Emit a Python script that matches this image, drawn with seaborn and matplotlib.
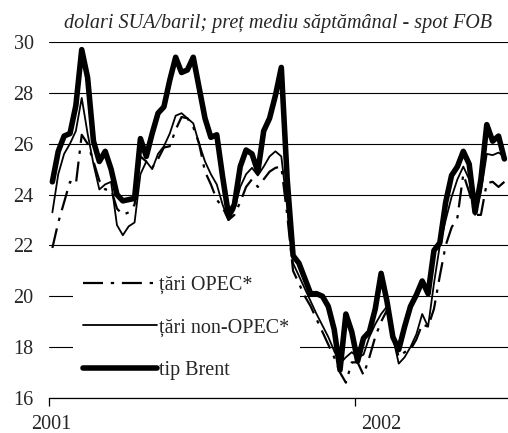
import pandas as pd
import numpy as np
import seaborn as sns
import matplotlib.pyplot as plt

# weekly average spot FOB prices, USD/barrel
weeks = pd.date_range('2001-01-05', periods=78, freq='7D')

opec = [21.9, 22.9, 23.7, 24.5, 24.4, 26.35, 26.0, 25.3, 24.55, 24.2,
        24.2, 23.45, 23.2, 23.3, 23.6, 25.5, 25.3, 25.05, 25.4, 25.85,
        25.9, 26.55, 27.05, 27.0, 26.65, 26.0, 24.9, 24.4, 23.8, 23.5,
        23.0, 23.2, 23.7, 24.3, 24.6, 24.3, 24.6, 24.9, 25.05, 25.1,
        23.2, 21.0, 20.5, 20.0, 19.6, 19.1, 18.6, 18.1, 17.6, 17.0,
        16.6, 17.4, 17.4, 16.9, 17.6, 18.4, 19.0, 19.45, 18.5, 17.6,
        17.8, 17.9, 18.3, 18.9, 18.8, 19.5, 20.8, 22.0, 22.7, 23.1,
        24.8, 24.1, 23.2, 23.2, 24.45, 24.5, 24.3, 24.5]

non_opec = [23.3, 24.8, 25.6, 26.0, 26.5, 27.8, 26.4, 25.2, 24.2, 24.4,
            24.5, 22.8, 22.4, 22.75, 22.9, 24.8, 25.3, 25.0, 25.6, 25.9,
            26.4, 27.1, 27.2, 27.0, 26.8, 26.0, 25.3, 24.8, 24.4, 23.6,
            23.0, 23.4, 24.3, 24.8, 25.05, 24.75, 25.1, 25.5, 25.7, 25.5,
            23.5, 21.3, 20.8, 20.3, 19.8, 19.3, 18.85, 18.4, 17.85, 17.35,
            17.6, 17.8, 17.6, 17.7, 18.4, 18.9, 19.3, 19.6, 18.4, 17.35,
            17.6, 18.0, 18.5, 19.3, 18.8, 20.5, 22.0, 23.0, 23.9, 24.6,
            25.1, 24.6, 23.2, 24.1, 25.6, 25.55, 25.65, 25.5]

brent = [24.5, 25.7, 26.3, 26.4, 27.5, 29.7, 28.6, 26.1, 25.3, 25.7,
         25.0, 24.0, 23.75, 23.8, 23.85, 26.2, 25.5, 26.4, 27.2, 27.45,
         28.5, 29.4, 28.8, 28.9, 29.4, 28.2, 27.0, 26.25, 26.35, 24.7,
         23.2, 23.6, 25.1, 25.75, 25.6, 24.9, 26.5, 27.0, 27.9, 29.0,
         24.6, 21.6, 21.3, 20.7, 20.1, 20.1, 20.0, 19.6, 18.7, 17.1,
         19.3, 18.6, 17.45, 18.35, 18.6, 19.5, 20.9, 19.8, 18.4, 17.9,
         18.8, 19.6, 20.05, 20.6, 20.1, 21.8, 22.1, 23.7, 24.75, 25.1,
         25.7, 25.2, 23.3, 24.6, 26.75, 26.1, 26.3, 25.4]

labels = ['țări OPEC*', 'țări non-OPEC*', 'tip Brent']
yticks = [16, 18, 20, 22, 24, 26, 28, 30]
year_labels = ['2001', '2002']

df = pd.DataFrame({'week': weeks, 'opec': opec, 'non_opec': non_opec, 'brent': brent})

sns.set_style('white')
plt.rcParams['font.family'] = ['Liberation Serif', 'DejaVu Serif']
FS = 14.5

fig = plt.figure(figsize=(5.08, 4.33), dpi=100)
ax = fig.add_axes([0.0965, 0.081, 0.903, 0.822])

sns.lineplot(data=df, x='week', y='opec', ax=ax, color='black', lw=1.6,
             label=labels[0])
ax.lines[-1].set_dashes([9, 3.5, 1.5, 3.5])
sns.lineplot(data=df, x='week', y='non_opec', ax=ax, color='black', lw=1.3,
             label=labels[1])
sns.lineplot(data=df, x='week', y='brent', ax=ax, color='black', lw=4.0,
             label=labels[2])
for ln in ax.lines:
    ln.set_solid_capstyle('round')
    ln.set_solid_joinstyle('round')
    ln.set_zorder(3)

ax.set_ylim(16, 30)
ax.set_yticks(yticks)
ax.set_xlim(pd.Timestamp('2001-01-01'), pd.Timestamp('2002-07-02'))
ax.grid(axis='y', color='black', lw=0.8)
ax.set_axisbelow(True)
for s in ['left', 'right', 'top']:
    ax.spines[s].set_visible(False)
ax.spines['bottom'].set_color('black')
ax.spines['bottom'].set_linewidth(0.9)

ax.tick_params(axis='y', length=0, pad=11, labelsize=FS)
major = [pd.Timestamp('2001-01-01'), pd.Timestamp('2002-01-01')]
ax.set_xticks(major)
ax.set_xticklabels(['', ''])
ax.tick_params(axis='x', which='major', direction='out', length=6, width=0.9,
               color='black', bottom=True)
minor = [pd.Timestamp('2001-01-04'), pd.Timestamp('2002-02-01')]
ax.set_xticks(minor, minor=True)
ax.set_xticklabels(year_labels, minor=True)
ax.tick_params(axis='x', which='minor', length=0, pad=12, labelsize=FS)
ax.set_xlabel('')
ax.set_ylabel('')

leg = ax.legend(loc='upper left', bbox_to_anchor=(0.03, 0.40), frameon=True,
                facecolor='white', edgecolor='none', framealpha=1,
                fancybox=False, fontsize=FS, handlelength=3.7,
                handletextpad=0.1, labelspacing=1.17, borderpad=0.5)
leg.set_zorder(1.5)

fig.text(0.548, 0.945, 'dolari SUA/baril; preț mediu săptămânal - spot FOB',
         ha='center', va='center', style='italic', fontsize=FS)

fig.savefig('out.png', dpi=100)
